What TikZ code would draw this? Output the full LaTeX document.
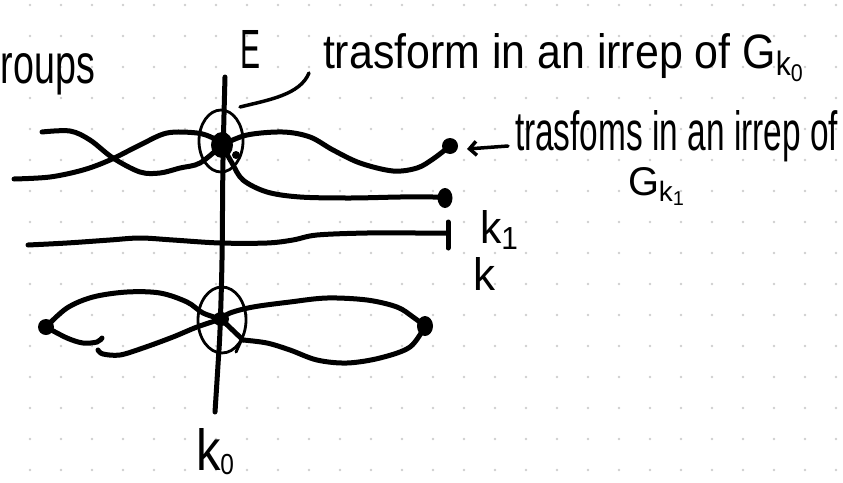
\documentclass[tikz,border=0pt]{standalone}
\usepackage{fontspec}
\setmainfont{Liberation Sans}
\usetikzlibrary{arrows.meta}
\definecolor{dotgrey}{HTML}{CFCFCF}
\newcommand{\lowsub}[1]{\raisebox{-0.08em}{\tiny #1}}
\begin{document}
\begin{tikzpicture}[x=1pt,y=-1pt,
  stroke/.style={line width=5pt, line cap=round, line join=round},
  ringstroke/.style={line width=2.8pt},
  hand/.style={inner sep=0pt, outer sep=0pt, anchor=base west},
  blob/.style={fill=black},
  smoothline/.style={stroke, smooth, tension=0.55}]
\fill[white] (0,0) rectangle (843,482);
\useasboundingbox (0,0) rectangle (843,482);
% dotted grid
\foreach \i in {1,...,27}
  \foreach \j in {0,...,15}
    \fill[dotgrey] ({31*\i-1},{5+31*\j}) circle (1.4pt);

% texts
\node[hand] (groups) at (1,83) {\resizebox{94pt}{30pt}{roups}};
\node[hand] (E) at (240,68) {\resizebox{20pt}{38pt}{E}};
\node[hand] (t1) at (323,68) {\resizebox{484pt}{35pt}{trasform in an irrep of G\textsubscript{k\textsubscript{0}}}};
\node[hand] (t2) at (515,150) {\resizebox{323pt}{40pt}{trasfoms in an irrep of}};
\node[hand] (t3) at (628,195) {\resizebox{60pt}{28pt}{G\textsubscript{k\textsubscript{1}}}};
\node[hand] (k1) at (480,243) {\resizebox{40pt}{33pt}{k\textsubscript{1}}};
\node[hand] (k) at (473,290) {\resizebox{22pt}{33pt}{k}};
\node[hand] (k0) at (196,470) {\resizebox{38pt}{42pt}{k\lowsub{0}}};

% key points
\coordinate (E0) at (222,145);
\coordinate (E1) at (221,319);
\coordinate (dA) at (450,146);
\coordinate (dB) at (445,198);
\coordinate (kend) at (448,233);
\coordinate (dL) at (46,327);
\coordinate (dR) at (425,326);
\coordinate (axTop) at (225,77);
\coordinate (axBot) at (215,412);

% vertical axis
\draw[smoothline] plot coordinates {(axTop) (223,160) (222,260) (220,330) (218,365) (axBot)};

% top cluster
\draw[ringstroke] (221,141) ellipse (22pt and 31pt);
\fill[blob] (E0) ellipse (11pt and 13pt);
\fill[blob] (236,155) circle (4pt);
\draw[smoothline] plot coordinates {(14,179) (50,177) (83,170) (110,160) (140,145) (167,133) (197,133) (213,138) (E0)};
\draw[smoothline] plot coordinates {(42,132) (70,131) (90,140) (113,158) (140,172) (160,173) (180,168) (200,163) (E0)};
\draw[smoothline] plot coordinates {(E0) (247,135) (283,132) (310,137) (333,150) (360,163) (393,171) (417,168) (433,159) (dA)};
\draw[smoothline] plot coordinates {(E0) (232,163) (243,180) (267,192) (300,197) (350,198) (400,197) (433,197) (dB)};
\fill[blob] (dA) circle (8pt);
\fill[blob] (dB) ellipse (7.5pt and 10pt);

% line k
\draw[smoothline] plot coordinates {(28,245) (67,243) (110,240) (140,238) (173,240) (220,243) (267,243) (293,240) (317,235) (367,233) (417,233) (kend)};
\draw[stroke] (448,222) -- (448,248);

% bottom cluster
\draw[ringstroke] (222,320) ellipse (24pt and 33pt);
\fill[blob] (E1) ellipse (8pt and 7pt);
\draw[smoothline] plot coordinates {(dL) (67,308) (93,297) (127,292) (160,293) (187,302) (203,313) (E1)};
\draw[smoothline] plot coordinates {(dL) (67,338) (83,343) (97,342) (102,338)};
\draw[smoothline] plot coordinates {(98,350) (103,354) (120,355) (143,348) (173,337) (197,327) (E1)};
\draw[smoothline] plot coordinates {(E1) (230,313) (253,307) (290,302) (327,298) (367,300) (397,307) (413,317) (dR)};
\draw[smoothline] plot coordinates {(dR) (410,347) (380,358) (347,363) (317,360) (290,350) (267,343) (243,340)};
\draw[stroke] (E1) -- (243,340);
\draw[stroke, line width=3pt] (236,352) -- (241,341);
\fill[blob] (dL) circle (8pt);
\fill[blob] (dR) ellipse (8pt and 10pt);

% connectors from labels
\coordinate (c1) at (309,73);
\coordinate (c2) at (240,107);
\draw[stroke, line width=3.5pt] (c1) .. controls (300,95) and (268,100) .. (c2);
\coordinate (aS) at (508,146);
\coordinate (aE) at (467,149);
\draw[stroke, line width=3.5pt, -{Straight Barb[length=7pt,width=14pt]}] (aS) -- (aE);
\end{tikzpicture}
\end{document}
